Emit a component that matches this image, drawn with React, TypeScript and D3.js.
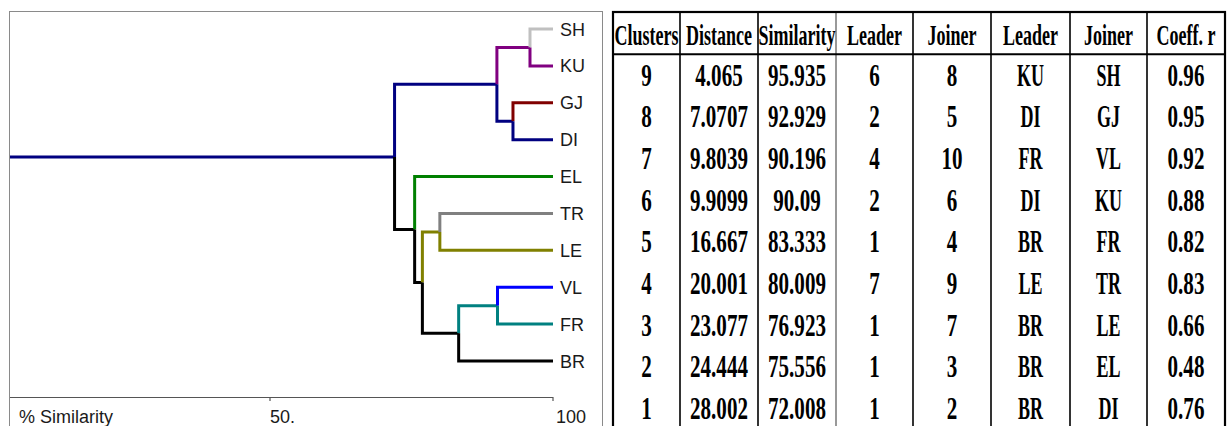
import * as d3 from "d3";

// Leaves of the dendrogram, top to bottom
const leaves = ["SH", "KU", "GJ", "DI", "EL", "TR", "LE", "VL", "FR", "BR"];
const leafColors = ["#c0c0c0", "#800080", "#800000", "#000080", "#008000", "#808080", "#808000", "#0000ff", "#008080", "#000000"];
const rootColor = "#000080";

// Amalgamation steps (table rows)
const clusters = ["9", "8", "7", "6", "5", "4", "3", "2", "1"];
const distances = ["4.065", "7.0707", "9.8039", "9.9099", "16.667", "20.001", "23.077", "24.444", "28.002"];
const similarities = [95.935, 92.929, 90.196, 90.09, 83.333, 80.009, 76.923, 75.556, 72.008];
const leaderSteps = ["6", "2", "4", "2", "1", "7", "1", "1", "1"];
const joinerSteps = ["8", "5", "10", "6", "4", "9", "7", "3", "2"];
const leaderNames = ["KU", "DI", "FR", "DI", "BR", "LE", "BR", "BR", "BR"];
const joinerNames = ["SH", "GJ", "VL", "KU", "FR", "TR", "LE", "EL", "DI"];
const coeffR = ["0.96", "0.95", "0.92", "0.88", "0.82", "0.83", "0.66", "0.48", "0.76"];

const headers = ["Clusters", "Distance", "Similarity", "Leader", "Joiner", "Leader", "Joiner", "Coeff. r"];

const axisTicks = [50, 100];
const axisTickLabels = ["50.", "100"];

type TreeNode = { x: number; y: number; color: string; top?: TreeNode; bottom?: TreeNode };

function Dendrogram() {
    const x = d3.scaleLinear().domain([50, 100]).range([270, 553]);
    const y = d3.scalePoint<string>().domain(leaves).range([29, 361]);

    // Build the tree from the merge steps
    const owner: Record<string, TreeNode> = {};
    const members = new Map<TreeNode, string[]>();
    leaves.forEach((name, i) => {
        const n: TreeNode = { x: x(100), y: y(name)!, color: leafColors[i] };
        owner[name] = n;
        members.set(n, [name]);
    });
    let root: TreeNode = owner[leaves[0]];
    similarities.forEach((s, i) => {
        const L = owner[leaderNames[i]];
        const J = owner[joinerNames[i]];
        const n: TreeNode = { x: x(s), y: (L.y + J.y) / 2, color: L.color, top: J, bottom: L };
        const m = [...members.get(L)!, ...members.get(J)!];
        m.forEach(k => (owner[k] = n));
        members.set(n, m);
        root = n;
    });

    const segs: { d: string; color: string }[] = [];
    const walk = (n: TreeNode) => {
        if (!n.top || !n.bottom) return;
        [n.top, n.bottom].forEach(c => {
            segs.push({ d: `M${n.x},${n.y}V${c.y}H${c.x}`, color: c.color });
            walk(c);
        });
    };
    walk(root);

    return (
        <g fontFamily="'Liberation Sans', Arial, sans-serif">
            <rect x={9.5} y={11.5} width={593} height={430} fill="none" stroke="#8a8a8a" strokeWidth={1} />
            <path d={`M10,${root.y}H${root.x}`} stroke={rootColor} strokeWidth={3} fill="none" />
            {segs.map((s, i) => (
                <path key={i} d={s.d} stroke={s.color} strokeWidth={3} fill="none" strokeLinejoin="miter" />
            ))}
            {leaves.map(name => (
                <text key={name} x={x(100) + 7} y={y(name)! + 6.5} fontSize={18} fill="#1a1a1a">{name}</text>
            ))}
            <path d={`M10,397.5H${x(100)}`} stroke="#555" strokeWidth={1.2} />
            {axisTicks.map(t => (
                <line key={t} x1={x(t)} x2={x(t)} y1={397} y2={401} stroke="#555" strokeWidth={1.2} />
            ))}
            <text x={19} y={423} fontSize={18} fill="#1a1a1a">% Similarity</text>
            {axisTicks.map((t, i) => (
                <text key={t} x={x(t) + (t === 100 ? 3 : 0)} y={423} fontSize={18} fill="#1a1a1a">{axisTickLabels[i]}</text>
            ))}
        </g>
    );
}

function Table() {
    const colWidths = [67, 78, 78, 77, 78, 79, 77, 78];
    const left = 613;
    const edges = colWidths.reduce((acc, w) => [...acc, acc[acc.length - 1] + w], [left]);
    const rowCount = clusters.length + 1;
    const row = d3.scaleBand<number>().domain(d3.range(rowCount)).range([12.5, 12.5 + rowCount * 41.7]);
    const columns = [clusters, distances, similarities.map(String), leaderSteps, joinerSteps, leaderNames, joinerNames, coeffR];
    const bottom = row(rowCount - 1)! + row.bandwidth();
    const right = edges[edges.length - 1];

    const cellText = (v: string, cx: number, base: number, key: string) => {
        const sx = /^[\d.]+$/.test(v) ? 0.68 : 0.58;
        return (
            <text key={key} transform={`translate(${cx},${base}) scale(${sx},1)`} textAnchor="middle" fontSize={31} fontWeight="bold">{v}</text>
        );
    };

    return (
        <g fontFamily="'Liberation Serif', 'Times New Roman', serif" fill="#000">
            {edges.slice(1, -1).map((e, i) => (
                <line key={i} x1={e} x2={e} y1={12} y2={bottom} stroke={i === 2 ? "#555" : "#000"} strokeWidth={i === 2 ? 1.2 : 1.6} />
            ))}
            <line x1={left} x2={right} y1={row(1)!} y2={row(1)!} stroke="#000" strokeWidth={2} />
            <rect x={left} y={12} width={right - left} height={bottom} fill="none" stroke="#000" strokeWidth={2.2} />
            {headers.map((h, i) => (
                <text key={h + i} transform={`translate(${(edges[i] + edges[i + 1]) / 2},45) scale(0.6,1)`} textAnchor="middle" fontSize={30} fontWeight="bold">{h}</text>
            ))}
            {columns.map((col, ci) =>
                col.map((v, ri) => {
                    const cy = row(ri + 1)! + row.bandwidth() / 2;
                    return cellText(v, (edges[ci] + edges[ci + 1]) / 2, cy + 10.5, `${ci}-${ri}`);
                })
            )}
        </g>
    );
}

export default function App() {
    return (
        <div style={{ position: "absolute", left: 0, top: 0, width: 1230, height: 426, background: "#fff" }}>
            <svg width={1230} height={426} viewBox="0 0 1230 426">
                <rect width={1230} height={426} fill="#fff" />
                <Dendrogram />
                <Table />
            </svg>
        </div>
    );
}
